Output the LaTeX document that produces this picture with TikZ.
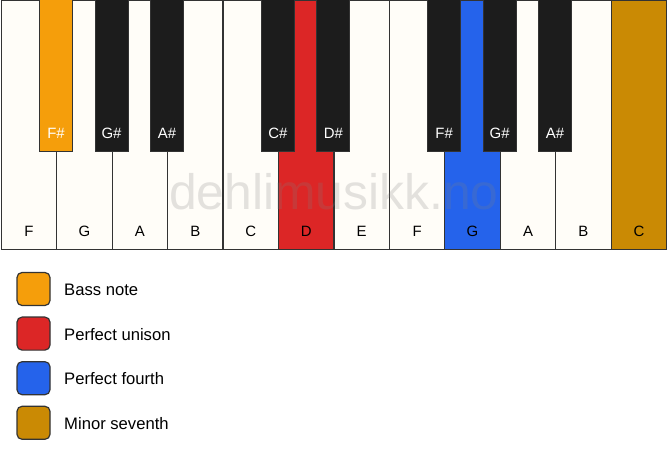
\documentclass[tikz,border=0pt]{standalone}
\usepackage{fontspec}
\setmainfont{Liberation Sans}
\usetikzlibrary{calc}
\definecolor{keywhite}{HTML}{FFFDF8}
\definecolor{keyblack}{HTML}{1C1C1C}
\definecolor{keyline}{HTML}{333333}
\definecolor{bassc}{HTML}{F59E0B}
\definecolor{unisonc}{HTML}{DC2626}
\definecolor{fourthc}{HTML}{2563EB}
\definecolor{seventhc}{HTML}{CA8A04}
\begin{document}
\begin{tikzpicture}[x=1bp,y=-1bp,
  whitekey/.style={draw=keyline,line width=1.2bp,fill=keywhite,minimum width=55.5bp,minimum height=249bp,inner sep=0pt,anchor=north west},
  blackkey/.style={draw=keyline,line width=1bp,fill=keyblack,minimum width=33bp,minimum height=152bp,inner sep=0pt,anchor=north},
  wlabel/.style={font=\fontsize{15}{15}\selectfont,text=black,anchor=base},
  blabel/.style={font=\fontsize{15}{15}\selectfont,text=white,anchor=base},
  legbox/.style={draw=keyline,line width=1.2bp,rounded corners=5bp,minimum width=33bp,minimum height=33bp,inner sep=0pt},
  legtext/.style={font=\fontsize{16.7}{16.7}\selectfont,anchor=west,inner sep=0pt}]
\useasboundingbox[fill=white] (0,0) rectangle (667,461);
% white keys
\foreach \i/\n/\c in {0/F/keywhite,1/G/keywhite,2/A/keywhite,3/B/keywhite,4/C/keywhite,5/D/unisonc,6/E/keywhite,7/F/keywhite,8/G/fourthc,9/A/keywhite,10/B/keywhite,11/C/seventhc}{
  \node[whitekey,fill=\c] (w\i) at ({0.6+\i*55.45},0) {};
  \node[wlabel] (wl\i) at ($(w\i.south)+(0,-14)$) {\n};
}
% watermark
\node[font=\fontsize{50}{50}\selectfont,text=gray,opacity=0.22] (wm) at (334,192) {dehlimusikk.no};
% black keys
\foreach \i/\n/\c in {1/F\#/bassc,2/G\#/keyblack,3/A\#/keyblack,5/C\#/keyblack,6/D\#/keyblack,8/F\#/keyblack,9/G\#/keyblack,10/A\#/keyblack}{
  \node[blackkey,fill=\c] (b\i) at ({0.6+\i*55.45},-0.5) {};
  \node[blabel] (bl\i) at ($(b\i.south)+(0,-14)$) {\n};
}
% legend
\foreach \j/\c/\t in {0/bassc/Bass note,1/unisonc/Perfect unison,2/fourthc/Perfect fourth,3/seventhc/Minor seventh}{
  \node[legbox,fill=\c] (lb\j) at (33.5,{289+\j*44.6}) {};
  \node[legtext] (lt\j) at (64,{289.5+\j*44.6}) {\t};
}
\end{tikzpicture}
\end{document}
